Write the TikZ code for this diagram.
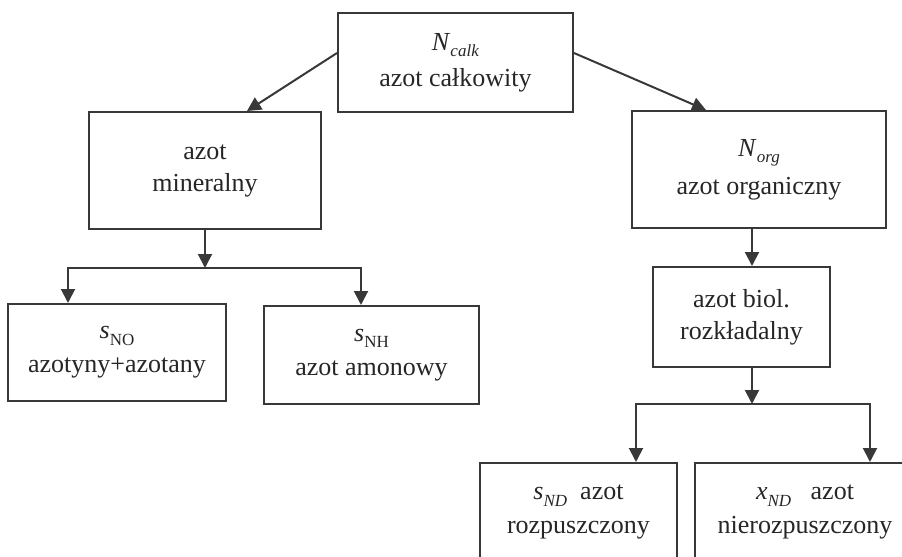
\documentclass[tikz,border=0pt]{standalone}
\usepackage{fontspec}
\setmainfont{Liberation Serif}
\usetikzlibrary{arrows.meta}
\newcommand{\sbs}[1]{\raisebox{-0.55ex}{\fontsize{8.5}{9}\selectfont #1}}

\begin{document}
\begin{tikzpicture}[x=0.5pt,y=-0.5pt,
    box/.style={draw=black!78,line width=1pt,align=center,inner sep=0pt,
        text=black!85,font=\fontsize{13}{16}\selectfont},
    arr/.style={draw=black!78,line width=1pt,-{Triangle[length=7pt,width=7pt]}}]
    \useasboundingbox (0,0) rectangle (902,557);
    \clip (0,0) rectangle (902,557);
    \node[box,minimum width=117.5pt,minimum height=49.5pt] (calk) at (455.5,62.5) {\textit{N}\sbs{\textit{calk}}\\[2pt]azot całkowity};
    \node[box,minimum width=116pt,minimum height=58.5pt] (miner) at (205,170.5) {azot\\mineralny};
    \node[box,minimum width=127pt,minimum height=58.5pt] (org) at (759,169.5) {\textit{N}\sbs{\textit{org}}\\[3pt]azot organiczny};
    \node[box,minimum width=109pt,minimum height=48.5pt] (sno) at (117,352.5) {\textit{s}\sbs{NO}\\[1pt] azotyny+azotany};
    \node[box,minimum width=107.5pt,minimum height=49pt] (snh) at (371.5,355) {\textit{s}\sbs{NH}\\[1pt]azot amonowy};
    \node[box,minimum width=88.5pt,minimum height=50pt] (biol) at (741.5,317) {azot biol.\\rozkładalny};
    \node[box,minimum width=98.5pt,minimum height=49pt] (snd) at (578.5,512) {\textit{s}\sbs{\textit{ND}}\ \ azot\\[1pt]rozpuszczony};
    \node[box,minimum width=110pt,minimum height=49pt] (xnd) at (805,512) {\textit{x}\sbs{\textit{ND}}\ \ \ azot\\[1pt]nierozpuszczony};
    % rozgalezienia
    \coordinate (mfork) at (205,268);
    \coordinate (bfork) at (752,404);
    \draw[arr] ([yshift=4.75pt]calk.west) -- ([xshift=21pt]miner.north);
    \draw[arr] ([yshift=4.75pt]calk.east) -- ([xshift=-26.5pt]org.north);
    \draw[arr] (miner.south) -- (mfork);
    \draw[arr] (mfork) -| ([xshift=-24.5pt]sno.north);
    \draw[arr] (mfork) -| ([xshift=-5.25pt]snh.north);
    \draw[arr] ([xshift=-3.5pt]org.south) -- ([xshift=-3.5pt]org.south |- biol.north);
    \draw[arr] (biol.south -| bfork) -- (bfork);
    \draw[arr] (bfork) -| ([xshift=28.75pt]snd.north);
    \draw[arr] (bfork) -| ([xshift=32.5pt]xnd.north);
\end{tikzpicture}
\end{document}
